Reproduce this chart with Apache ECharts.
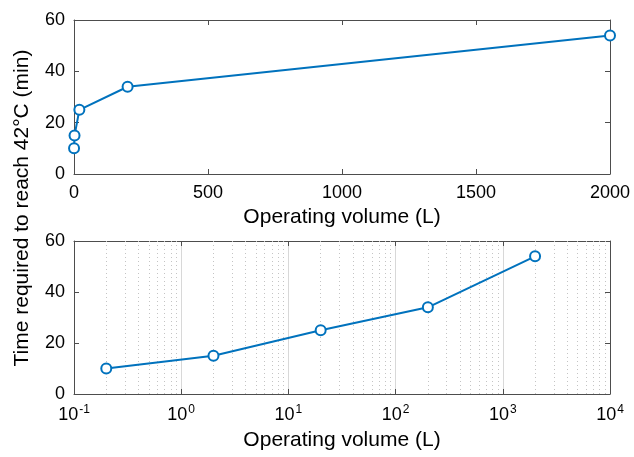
<!DOCTYPE html>
<html>
<head>
<meta charset="utf-8">
<script src="https://cdn.jsdelivr.net/npm/echarts@6/dist/echarts.min.js"></script>
<style>html,body{margin:0;padding:0;background:#fff;}#c{width:634px;height:457px;}</style>
</head>
<body>
<div id="c"></div>
<script>
const volume = [0.2, 2, 20, 200, 2000];
const timeMin = [10, 15, 25, 34, 54];
const yTitle = 'Time required to reach 42°C (min)';
const xTitle = 'Operating volume (L)';

const FONT = 'Liberation Sans';
const AX = '#4d4d4d';
const BLUE = '#0072BD';

// minor grid values for log axis (2..9 × 10^k)
const minorVals = [];
for (let k = -1; k <= 3; k++) for (let m = 2; m <= 9; m++) minorVals.push(+(m * Math.pow(10, k)).toPrecision(3));

const chart = echarts.init(document.getElementById('c'), null, {renderer: 'canvas'});
const tickLabel = {color: '#000', fontFamily: FONT, fontSize: 18};
const axLine = {show: true, onZero: false, lineStyle: {color: AX, width: 1}};
const axTick = {show: true, inside: true, length: 5, lineStyle: {color: AX}};
const baseX = {axisLine: axLine, axisTick: axTick, splitLine: {show: false}};
function supFmt(v) {
  const e = Math.round(Math.log10(v));
  return '{b|10}{s|' + e + '}';
}
function yAx(grid, pos, labels) {
  return {gridIndex: grid, type: 'value', position: pos, min: 0, max: 60, interval: 20,
    axisLine: axLine, axisTick: axTick, splitLine: {show: false},
    axisLabel: labels ? Object.assign({margin: 9}, tickLabel) : {show: false}};
}
chart.setOption({
  animation: false,
  backgroundColor: '#fff',
  grid: [
    {left: 74, right: 24, top: 20, height: 154},
    {left: 74, right: 24, top: 241, height: 153}
  ],
  xAxis: [
    Object.assign({}, baseX, {gridIndex: 0, type: 'value', position: 'bottom', min: 0, max: 2000, interval: 500,
      axisLabel: Object.assign({margin: 10, formatter: v => String(v)}, tickLabel),
      name: xTitle, nameLocation: 'middle', nameGap: 33,
      nameTextStyle: {color: '#000', fontFamily: FONT, fontSize: 21}}),
    Object.assign({}, baseX, {gridIndex: 0, type: 'value', position: 'top', min: 0, max: 2000, interval: 500,
      axisLabel: {show: false}}),
    Object.assign({}, baseX, {gridIndex: 1, type: 'log', logBase: 10, position: 'bottom', min: 0.1, max: 10000,
      splitLine: {show: true, lineStyle: {color: '#d8d8d8', width: 1}},
      axisLabel: {margin: 10, formatter: supFmt, rich: {
        b: {color: '#000', fontFamily: FONT, fontSize: 18},
        s: {color: '#000', fontFamily: FONT, fontSize: 12, verticalAlign: 'top', padding: [0, 0, 10, 1]}
      }},
      name: xTitle, nameLocation: 'middle', nameGap: 36,
      nameTextStyle: {color: '#000', fontFamily: FONT, fontSize: 21}}),
    Object.assign({}, baseX, {gridIndex: 1, type: 'log', logBase: 10, position: 'top', min: 0.1, max: 10000,
      axisLabel: {show: false}})
  ],
  yAxis: [yAx(0, 'left', true), yAx(0, 'right', false), yAx(1, 'left', true), yAx(1, 'right', false)],
  graphic: [{
    type: 'text', x: 22, y: 208, rotation: Math.PI / 2,
    style: {text: yTitle, fill: '#000', font: '21px "Liberation Sans"', align: 'center', verticalAlign: 'middle'}
  }],
  series: [
    {type: 'line', xAxisIndex: 0, yAxisIndex: 0, data: volume.map((v, i) => [v, timeMin[i]]),
      symbol: 'emptyCircle', symbolSize: 10, lineStyle: {color: BLUE, width: 2},
      itemStyle: {color: BLUE, borderWidth: 2}},
    {type: 'line', xAxisIndex: 2, yAxisIndex: 2, data: volume.map((v, i) => [v, timeMin[i]]),
      symbol: 'emptyCircle', symbolSize: 10, lineStyle: {color: BLUE, width: 2},
      itemStyle: {color: BLUE, borderWidth: 2}, z: 5,
      markLine: {silent: true, symbol: 'none', label: {show: false}, animation: false,
        lineStyle: {color: '#c4c4c4', type: [1, 3], width: 1},
        data: minorVals.map(v => ({xAxis: v}))}}
  ]
});
</script>
</body>
</html>
